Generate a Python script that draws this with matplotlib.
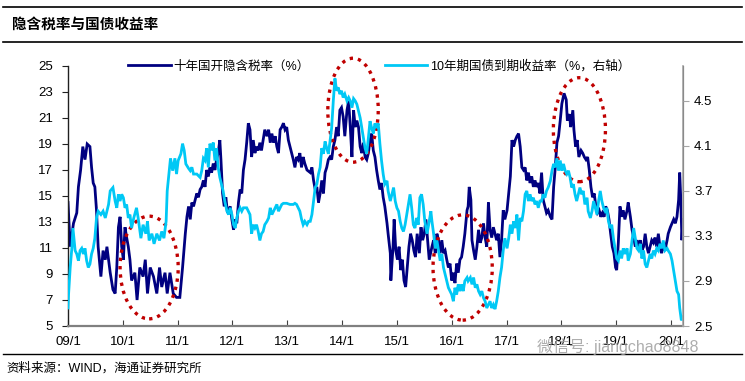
import matplotlib
matplotlib.use('Agg')
import matplotlib.pyplot as plt
from matplotlib.patches import Ellipse
from matplotlib.lines import Line2D

plt.rcParams['font.family'] = ['Liberation Sans', 'Noto Sans CJK SC', 'DejaVu Sans']

# === Data (dates as decimal years) ===
# 十年国开隐含税率（%） - left axis
tax_dates = [
    2009.00, 2009.04, 2009.10, 2009.16, 2009.19, 2009.23, 2009.27, 2009.31, 2009.35, 2009.40,
    2009.43, 2009.46, 2009.49, 2009.52, 2009.55, 2009.60, 2009.64, 2009.68, 2009.71, 2009.77,
    2009.82, 2009.86, 2009.89, 2009.92, 2009.95, 2009.98,
    2010.01, 2010.04, 2010.07, 2010.10, 2010.13, 2010.16, 2010.22, 2010.26, 2010.31, 2010.37,
    2010.41, 2010.45, 2010.50, 2010.56, 2010.62, 2010.67, 2010.71, 2010.77, 2010.81, 2010.86,
    2010.92, 2010.98,
    2011.04, 2011.09, 2011.14, 2011.17, 2011.20, 2011.23, 2011.26, 2011.29, 2011.32, 2011.35,
    2011.38, 2011.41, 2011.44, 2011.47, 2011.50, 2011.53, 2011.56, 2011.59, 2011.62, 2011.65,
    2011.68, 2011.71, 2011.74, 2011.77, 2011.79, 2011.82, 2011.85, 2011.88, 2011.91, 2011.96,
    2011.99,
    2012.02, 2012.05, 2012.08, 2012.11, 2012.14, 2012.17, 2012.20, 2012.23, 2012.26, 2012.29,
    2012.32, 2012.35, 2012.38, 2012.41, 2012.44, 2012.47, 2012.50, 2012.53, 2012.56, 2012.59,
    2012.63, 2012.66, 2012.69, 2012.72, 2012.75, 2012.78, 2012.81, 2012.84, 2012.87, 2012.90,
    2012.93, 2012.96, 2012.99,
    2013.02, 2013.05, 2013.08, 2013.11, 2013.14, 2013.17, 2013.20, 2013.23, 2013.26, 2013.29,
    2013.32, 2013.36, 2013.42, 2013.45, 2013.48, 2013.51, 2013.54, 2013.57, 2013.60, 2013.63,
    2013.66, 2013.69, 2013.72, 2013.75, 2013.78, 2013.81, 2013.84, 2013.87, 2013.90, 2013.93,
    2013.96, 2013.99,
    2014.02, 2014.05, 2014.09, 2014.12, 2014.15, 2014.18, 2014.21, 2014.24, 2014.27, 2014.30,
    2014.33, 2014.36, 2014.39, 2014.42, 2014.45, 2014.48, 2014.51, 2014.54, 2014.57, 2014.60,
    2014.63, 2014.66, 2014.69, 2014.72, 2014.75, 2014.78, 2014.82, 2014.84, 2014.88, 2014.89,
    2014.93, 2014.95, 2014.98,
    2015.01, 2015.04, 2015.07, 2015.10, 2015.13, 2015.16, 2015.19, 2015.22, 2015.25, 2015.28,
    2015.31, 2015.34, 2015.37, 2015.41, 2015.44, 2015.47, 2015.50, 2015.53, 2015.56, 2015.59,
    2015.64, 2015.67, 2015.70, 2015.73, 2015.76, 2015.79, 2015.82, 2015.85, 2015.88, 2015.91,
    2015.94, 2015.97,
    2016.00, 2016.03, 2016.06, 2016.09, 2016.12, 2016.15, 2016.18, 2016.21, 2016.24, 2016.28,
    2016.30, 2016.32, 2016.35, 2016.37, 2016.40, 2016.43, 2016.46, 2016.49, 2016.52, 2016.55,
    2016.58, 2016.61, 2016.64, 2016.67, 2016.70, 2016.73, 2016.76, 2016.79, 2016.82, 2016.85,
    2016.88, 2016.91, 2016.94, 2016.97,
    2017.01, 2017.04, 2017.07, 2017.10, 2017.13, 2017.16, 2017.19, 2017.22, 2017.25, 2017.28,
    2017.31, 2017.34, 2017.37, 2017.40, 2017.43, 2017.46, 2017.49, 2017.52, 2017.55, 2017.58,
    2017.61, 2017.64, 2017.67, 2017.70, 2017.73, 2017.76, 2017.80, 2017.83, 2017.86, 2017.89,
    2017.92, 2017.95, 2017.98,
    2018.01, 2018.05, 2018.09, 2018.11, 2018.15, 2018.17, 2018.21, 2018.23, 2018.26, 2018.29,
    2018.32, 2018.36, 2018.39, 2018.42, 2018.45, 2018.48, 2018.51, 2018.54, 2018.57, 2018.60,
    2018.63, 2018.66, 2018.69, 2018.72, 2018.75, 2018.78, 2018.81, 2018.84, 2018.87, 2018.90,
    2018.93, 2018.96, 2018.99,
    2019.01, 2019.04, 2019.07, 2019.10, 2019.13, 2019.16, 2019.20, 2019.22, 2019.26, 2019.29,
    2019.32, 2019.35, 2019.38, 2019.41, 2019.44, 2019.47, 2019.50, 2019.53, 2019.56, 2019.59,
    2019.62, 2019.65, 2019.68, 2019.71, 2019.74, 2019.77, 2019.80, 2019.83, 2019.86, 2019.89,
    2019.93, 2019.95, 2019.99,
    2020.02, 2020.05, 2020.08, 2020.11, 2020.14, 2020.16, 2020.18, 2020.20, 2020.22,
]
tax_rate = [
    14.5, 11.1, 12.9, 13.7, 15.7, 17.0, 18.8, 17.8, 19.0, 18.8,
    17.2, 16.0, 15.7, 13.9, 11.1, 8.8, 10.8, 10.1, 11.1, 9.1,
    7.8, 7.5, 9.5, 12.6, 13.4, 11.1,
    10.1, 12.6, 11.8, 11.1, 10.1, 8.5, 9.1, 7.0, 9.5, 8.8,
    10.1, 7.5, 9.5, 8.8, 7.5, 9.5, 8.0, 9.1, 7.5, 9.1,
    7.5, 7.2,
    7.2, 9.5, 12.1, 13.4, 14.2, 13.2, 14.5, 14.2, 14.7, 15.2,
    14.9, 15.5, 15.7, 16.2, 15.7, 17.0, 16.5, 17.2, 16.8, 17.5,
    17.0, 17.8, 18.3, 19.3, 17.8, 15.2, 14.2, 14.9, 13.7, 14.2,
    13.2,
    12.4, 13.2, 12.9, 14.5, 15.5, 15.2, 17.0, 17.8, 19.1, 20.6,
    20.1, 18.0, 19.3, 18.3, 18.8, 18.5, 19.1, 18.5, 19.3, 20.1,
    19.6, 20.1, 19.1, 19.8, 19.1, 19.6, 18.8, 18.3, 20.1, 20.3,
    20.6, 20.1, 20.3,
    19.3, 18.8, 18.3, 17.8, 17.2, 18.0, 17.8, 18.3, 17.2, 18.0,
    17.5, 17.0, 16.8, 17.2, 16.2, 15.5, 15.7, 14.5, 15.2, 16.2,
    15.2, 16.8, 17.2, 17.8, 18.0, 17.8, 18.8, 19.3, 20.3, 19.6,
    21.6, 21.8,
    21.1, 19.6, 21.6, 22.3, 20.3, 18.0, 21.6, 20.3, 20.8, 20.3,
    18.8, 18.3, 19.1, 18.0, 17.8, 18.3, 19.3, 19.8, 18.5, 18.0,
    17.0, 16.2, 15.5, 16.0, 14.9, 14.2, 12.9, 12.1, 10.6, 8.5,
    11.1, 13.2, 10.8,
    10.1, 11.1, 9.3, 10.1, 8.5, 8.0, 9.5, 11.1, 12.1, 11.6,
    10.8, 10.3, 12.1, 10.6, 12.6, 11.6, 12.1, 13.2, 11.6, 10.1,
    11.1, 11.6, 10.6, 12.1, 11.6, 10.6, 11.6, 10.6, 10.8, 10.1,
    9.5, 9.8,
    8.5, 9.1, 8.3, 9.8, 9.1, 10.1, 10.3, 11.1, 12.1, 13.9,
    14.2, 15.7, 14.7, 11.6, 10.8, 10.1, 11.1, 12.4, 11.4, 11.8,
    12.9, 11.8, 11.1, 14.5, 12.4, 11.8, 12.6, 12.1, 11.6, 12.1,
    10.3, 11.6, 13.9, 13.2,
    13.9, 15.2, 16.5, 19.3, 18.8, 19.3, 19.6, 19.8, 18.8, 17.2,
    17.0, 17.2, 16.2, 16.8, 16.0, 16.5, 15.7, 16.2, 15.7, 16.0,
    15.2, 16.8, 14.7, 14.2, 13.7, 13.9, 13.4, 13.2, 15.7, 17.2,
    19.1, 19.6, 20.8,
    22.1, 22.9, 22.4, 20.8, 21.3, 20.3, 21.6, 20.1, 18.8, 19.3,
    18.0, 18.5, 18.3, 18.0, 17.8, 18.0, 17.0, 15.7, 14.9, 15.2,
    14.2, 13.7, 13.9, 13.4, 13.7, 13.4, 14.2, 13.9, 13.2, 12.1,
    11.1, 10.6, 9.5,
    9.3, 11.4, 14.2, 13.4, 13.9, 13.2, 13.9, 14.5, 13.4, 12.4,
    11.8, 11.1, 11.6, 11.1, 11.6, 10.8, 11.1, 12.1, 11.1, 10.6,
    11.1, 11.6, 11.4, 11.8, 11.1, 12.1, 11.1, 10.6, 11.4, 10.8,
    11.6, 12.1, 12.6,
    12.9, 13.2, 12.9, 13.4, 14.7, 16.8, 14.7, 11.6, 13.2,
]

# 10年期国债到期收益率（%，右轴） - right axis
yld_dates = [
    2009.00, 2009.01, 2009.04, 2009.07, 2009.09, 2009.13, 2009.16, 2009.19, 2009.22, 2009.25,
    2009.28, 2009.31, 2009.34, 2009.37, 2009.40, 2009.43, 2009.46, 2009.49, 2009.52, 2009.55,
    2009.60, 2009.64, 2009.68, 2009.71, 2009.74, 2009.77, 2009.82, 2009.86, 2009.89, 2009.92,
    2009.95, 2009.98,
    2010.01, 2010.04, 2010.07, 2010.10, 2010.13, 2010.16, 2010.20, 2010.25, 2010.28, 2010.33,
    2010.37, 2010.42, 2010.45, 2010.48, 2010.53, 2010.57, 2010.62, 2010.67, 2010.71, 2010.75,
    2010.79, 2010.81, 2010.85, 2010.87, 2010.91, 2010.95, 2010.98,
    2011.01, 2011.06, 2011.09, 2011.12, 2011.15, 2011.20, 2011.23, 2011.26, 2011.29, 2011.35,
    2011.41, 2011.44, 2011.47, 2011.50, 2011.53, 2011.56, 2011.59, 2011.62, 2011.65, 2011.68,
    2011.71, 2011.74, 2011.77, 2011.80, 2011.83, 2011.86, 2011.90, 2011.93, 2011.96, 2011.99,
    2012.02, 2012.05, 2012.08, 2012.11, 2012.14, 2012.17, 2012.20, 2012.26, 2012.32, 2012.35,
    2012.38, 2012.41, 2012.44, 2012.47, 2012.50, 2012.53, 2012.56, 2012.59, 2012.63, 2012.66,
    2012.69, 2012.72, 2012.75, 2012.78, 2012.81, 2012.84, 2012.87, 2012.90, 2012.93, 2012.99,
    2013.05, 2013.11, 2013.14, 2013.17, 2013.20, 2013.23, 2013.26, 2013.29, 2013.32, 2013.36,
    2013.39, 2013.42, 2013.45, 2013.48, 2013.51, 2013.54, 2013.57, 2013.60, 2013.63, 2013.66,
    2013.69, 2013.72, 2013.75, 2013.78, 2013.81, 2013.84, 2013.87, 2013.90, 2013.93, 2013.96,
    2013.99,
    2014.02, 2014.05, 2014.09, 2014.12, 2014.15, 2014.18, 2014.21, 2014.24, 2014.27, 2014.30,
    2014.33, 2014.36, 2014.39, 2014.42, 2014.45, 2014.48, 2014.51, 2014.54, 2014.57, 2014.60,
    2014.63, 2014.66, 2014.69, 2014.72, 2014.75, 2014.78, 2014.82, 2014.84, 2014.88, 2014.91,
    2014.94, 2014.97,
    2015.00, 2015.03, 2015.06, 2015.09, 2015.12, 2015.15, 2015.18, 2015.21, 2015.24, 2015.27,
    2015.30, 2015.33, 2015.36, 2015.39, 2015.42, 2015.45, 2015.48, 2015.51, 2015.55, 2015.58,
    2015.62, 2015.64, 2015.67, 2015.70, 2015.73, 2015.76, 2015.79, 2015.82, 2015.85, 2015.88,
    2015.91, 2015.94, 2015.97,
    2016.00, 2016.03, 2016.06, 2016.09, 2016.12, 2016.15, 2016.18, 2016.21, 2016.24, 2016.28,
    2016.30, 2016.34, 2016.37, 2016.40, 2016.43, 2016.46, 2016.49, 2016.52, 2016.55, 2016.58,
    2016.61, 2016.64, 2016.67, 2016.70, 2016.73, 2016.76, 2016.79, 2016.82, 2016.85, 2016.88,
    2016.91, 2016.94, 2016.97,
    2017.01, 2017.04, 2017.07, 2017.10, 2017.13, 2017.16, 2017.19, 2017.22, 2017.25, 2017.28,
    2017.31, 2017.34, 2017.37, 2017.40, 2017.43, 2017.46, 2017.49, 2017.52, 2017.55, 2017.58,
    2017.61, 2017.64, 2017.67, 2017.70, 2017.73, 2017.76, 2017.80, 2017.83, 2017.86, 2017.89,
    2017.92, 2017.95, 2017.98,
    2018.01, 2018.04, 2018.07, 2018.10, 2018.13, 2018.16, 2018.19, 2018.22, 2018.25, 2018.28,
    2018.31, 2018.34, 2018.37, 2018.40, 2018.43, 2018.47, 2018.49, 2018.53, 2018.56, 2018.59,
    2018.62, 2018.65, 2018.68, 2018.71, 2018.74, 2018.77, 2018.80, 2018.83, 2018.86, 2018.89,
    2018.92, 2018.95, 2018.98,
    2019.01, 2019.04, 2019.07, 2019.10, 2019.13, 2019.16, 2019.20, 2019.22, 2019.26, 2019.29,
    2019.32, 2019.35, 2019.38, 2019.41, 2019.44, 2019.47, 2019.50, 2019.53, 2019.56, 2019.59,
    2019.62, 2019.65, 2019.68, 2019.71, 2019.74, 2019.77, 2019.80, 2019.83, 2019.86, 2019.89,
    2019.93, 2019.95, 2019.99,
    2020.02, 2020.05, 2020.08, 2020.11, 2020.14, 2020.16, 2020.19, 2020.22,
]
yld_10y = [
    2.66, 2.78, 3.02, 3.19, 3.37, 3.17, 3.14, 3.08, 3.17, 3.19,
    3.14, 3.19, 3.08, 3.02, 3.05, 3.14, 3.19, 3.28, 3.46, 3.52,
    3.49, 3.52, 3.46, 3.52, 3.58, 3.70, 3.73, 3.61, 3.55, 3.67,
    3.61, 3.67,
    3.64, 3.55, 3.58, 3.46, 3.49, 3.37, 3.46, 3.55, 3.46, 3.28,
    3.40, 3.32, 3.43, 3.26, 3.32, 3.23, 3.32, 3.26, 3.34, 3.28,
    3.43, 3.70, 3.90, 3.99, 3.88, 3.99, 3.85,
    3.97, 4.03, 4.12, 4.06, 3.94, 3.90, 3.88, 3.91, 3.85, 3.85,
    3.82, 3.88, 3.99, 3.97, 4.08, 3.91, 4.12, 4.06, 4.13, 3.97,
    4.08, 3.91, 3.82, 3.76, 3.70, 3.61, 3.52, 3.49, 3.55, 3.49,
    3.40, 3.37, 3.46, 3.52, 3.55, 3.52, 3.55, 3.55, 3.49, 3.32,
    3.40, 3.37, 3.40, 3.34, 3.26, 3.32, 3.34, 3.40, 3.43, 3.46,
    3.55, 3.49, 3.52, 3.55, 3.58, 3.52, 3.55, 3.58, 3.59, 3.59,
    3.58, 3.58, 3.59, 3.58, 3.55, 3.52, 3.45, 3.40, 3.43, 3.40,
    3.43, 3.43, 3.49, 3.61, 3.73, 3.76, 3.85, 3.91, 4.08, 4.03,
    4.14, 4.08, 4.03, 4.14, 4.26, 4.50, 4.70, 4.59, 4.62, 4.56,
    4.59,
    4.53, 4.56, 4.50, 4.53, 4.50, 4.44, 4.52, 4.50, 4.47, 4.41,
    4.35, 4.26, 4.17, 4.08, 4.03, 4.17, 4.32, 4.26, 4.21, 4.30,
    4.26, 4.30, 4.12, 3.97, 3.85, 3.76, 3.79, 3.70, 3.61, 3.67,
    3.73, 3.61,
    3.55, 3.52, 3.43, 3.37, 3.34, 3.40, 3.49, 3.58, 3.67, 3.55,
    3.40, 3.37, 3.46, 3.40, 3.64, 3.67, 3.58, 3.43, 3.32, 3.40,
    3.52, 3.43, 3.32, 3.19, 3.26, 3.17, 3.08, 3.14, 3.02, 2.96,
    2.90, 2.84, 2.81,
    2.78, 2.72, 2.84, 2.78, 2.87, 2.81, 2.87, 2.81, 2.90, 2.93,
    2.90, 2.93, 2.87, 2.93, 2.84, 2.87, 2.81, 2.78, 2.81, 2.75,
    2.72, 2.66, 2.69, 2.72, 2.66, 2.69, 2.65, 2.72, 2.81, 2.93,
    3.02, 3.17, 3.28,
    3.19, 3.28, 3.40, 3.32, 3.43, 3.37, 3.49, 3.26, 3.46, 3.43,
    3.52, 3.67, 3.70, 3.61, 3.67, 3.61, 3.64, 3.58, 3.61, 3.55,
    3.61, 3.61, 3.67, 3.64, 3.70, 3.73, 3.79, 3.88, 3.94, 3.91,
    3.99, 3.88, 3.97,
    3.88, 3.94, 3.88, 3.85, 3.88, 3.82, 3.73, 3.76, 3.67, 3.61,
    3.67, 3.73, 3.67, 3.70, 3.58, 3.64, 3.52, 3.46, 3.52, 3.61,
    3.55, 3.49, 3.61, 3.70, 3.61, 3.55, 3.52, 3.55, 3.43, 3.37,
    3.40, 3.28, 3.19,
    3.10, 3.08, 3.17, 3.10, 3.19, 3.14, 3.19, 3.08, 3.14, 3.26,
    3.37, 3.28, 3.19, 3.17, 3.23, 3.10, 3.17, 3.05, 3.02, 3.08,
    3.14, 3.10, 3.17, 3.14, 3.19, 3.17, 3.23, 3.19, 3.26, 3.17,
    3.19, 3.17, 3.14,
    3.08, 2.99, 2.90, 2.81, 2.78, 2.66, 2.55, 2.58,
]

# highlighted episodes: (center date, center tax rate, width in years, height in %)
circle_x = [2010.48, 2014.20, 2016.20, 2018.33]
circle_y = [9.5, 21.6, 9.5, 20.1]
circle_w = [1.06, 0.92, 1.08, 0.95]
circle_h = [7.9, 8.0, 8.1, 8.0]

tick_years = list(range(2009, 2021))
tick_labels = [f"{y % 100:02d}/1" for y in tick_years]
left_ticks = list(range(5, 26, 2))
right_ticks = [2.5, 2.9, 3.3, 3.7, 4.1, 4.5]

NAVY = '#000080'
CYAN = '#00C8F5'
RED = '#C00000'

W, H = 745, 381
fig = plt.figure(figsize=(W / 100, H / 100), dpi=100)
ax = fig.add_axes([68 / W, 1 - 326 / H, (683 - 68) / W, (326 - 66) / H])
ax2 = ax.twinx()

ax.plot(tax_dates, tax_rate, color=NAVY, lw=2.0, solid_joinstyle='miter')
ax2.plot(yld_dates, yld_10y, color=CYAN, lw=2.0, solid_joinstyle='miter')

for cx, cy, cw, ch in zip(circle_x, circle_y, circle_w, circle_h):
    e = Ellipse((cx, cy), cw, ch, fill=False, edgecolor=RED, lw=2.4,
                linestyle=(0, (1, 1.5)), zorder=5, clip_on=False)
    ax.add_patch(e)

ax.set_xlim(2009.0, 2020.22)
ax.set_ylim(5, 25)
ax2.set_ylim(2.5, 4.81)
ax.set_xticks(tick_years)
ax.set_xticklabels(tick_labels)
ax.set_yticks(left_ticks)
ax2.set_yticks(right_ticks)
ax2.set_yticklabels([f"{v:.1f}" for v in right_ticks])

for a in (ax, ax2):
    a.spines['top'].set_visible(False)
ax.spines['left'].set_color('#202020')
ax.spines['left'].set_linewidth(1.0)
ax.spines['bottom'].set_color('#808080')
ax.spines['bottom'].set_linewidth(1.6)
ax2.spines['left'].set_visible(False)
ax2.spines['bottom'].set_visible(False)
ax2.spines['right'].set_color('#A6A6A6')
ax2.spines['right'].set_linewidth(1.2)

ax.tick_params(axis='y', direction='out', length=4, width=0.8, color='#202020',
               pad=7, labelsize=9.5)
ax.tick_params(axis='x', direction='in', length=4, width=0.8, color='#404040',
               pad=7, labelsize=9.5)
ax2.tick_params(axis='y', direction='out', length=4, width=0.8, color='#A6A6A6',
                pad=4, labelsize=9.5)

# legend
handles = [Line2D([], [], color=NAVY, lw=2.0), Line2D([], [], color=CYAN, lw=2.0)]
fig.legend(handles, ['十年国开隐含税率（%）', '10年期国债到期收益率（%，右轴）'],
           loc='upper left', bbox_to_anchor=(128 / W, 1 - 60 / H), ncol=2,
           frameon=False, fontsize=9, handlelength=3.4, handletextpad=0.25,
           columnspacing=6.0, borderpad=0, borderaxespad=0)

# header / footer
fig.add_artist(Line2D([3 / W, 742 / W], [1 - 7 / H, 1 - 7 / H], color='black', lw=1.2))
fig.add_artist(Line2D([3 / W, 742 / W], [1 - 42 / H, 1 - 42 / H], color='black', lw=1.2))
fig.add_artist(Line2D([3 / W, 742 / W], [1 - 354 / H, 1 - 354 / H], color='black', lw=1.0))
fig.text(12 / W, 1 - 25 / H, '隐含税率与国债收益率', fontsize=10.5, fontweight='bold',
         va='center', ha='left')
fig.text(6 / W, 1 - 368 / H, '资料来源：WIND，海通证券研究所', fontsize=9,
         va='center', ha='left')
fig.text(537 / W, 1 - 347 / H, '微信号: jiangchao8848', fontsize=11.5, color='#A0A0A0',
         va='center', ha='left', alpha=0.85)

plt.savefig('out.png', dpi=100)
plt.close()
